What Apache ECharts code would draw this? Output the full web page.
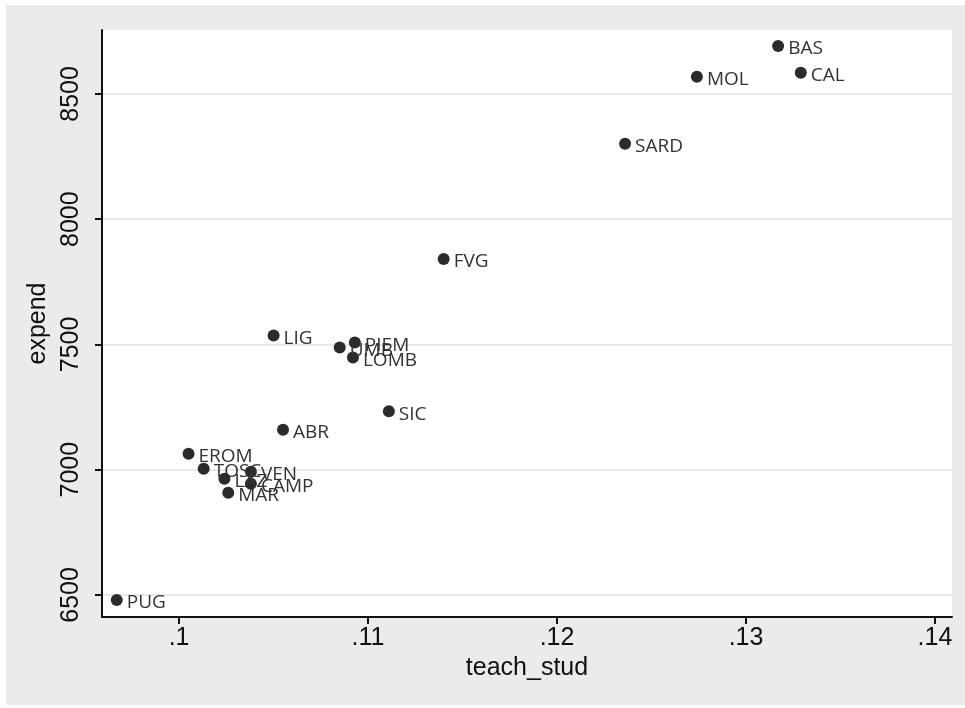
<!DOCTYPE html>
<html>
<head>
<meta charset="utf-8">
<script src="https://cdn.jsdelivr.net/npm/echarts@6/dist/echarts.min.js"></script>
<style>
html,body{margin:0;padding:0;background:#fff;}
#chart{width:965px;height:708px;}
</style>
</head>
<body>
<div id="chart"></div>
<script>
const regions = ["BAS","CAL","MOL","SARD","FVG","LIG","PIEM","UMB","LOMB","SIC","ABR","EROM","TOSC","VEN","LAZ","CAMP","MAR","PUG"];
const teachStud = [0.1317,0.1329,0.1274,0.1236,0.1140,0.1050,0.1093,0.1085,0.1092,0.1111,0.1055,0.1005,0.1013,0.1038,0.1024,0.1038,0.1026,0.0967];
const expend = [8691,8584,8568,8301,7841,7536,7508,7488,7448,7233,7159,7064,7004,6992,6964,6944,6908,6480];
const xTicks = [0.10,0.11,0.12,0.13,0.14];
const yTicks = [6500,7000,7500,8000,8500];

const points = regions.map((r,i)=>({name:r,value:[teachStud[i],expend[i]]}));
const fmtX = v => { const s = String(+v.toFixed(2)); return s.replace(/^0/,''); };

const chart = echarts.init(document.getElementById('chart'));
chart.setOption({
  animation:false,
  backgroundColor:'#ffffff',
  graphic:[{type:'rect',z:-10,shape:{x:6,y:5,width:959,height:700},style:{fill:'#ebebeb'},silent:true}],
  grid:{left:102,top:30,right:13,bottom:91,show:true,backgroundColor:'#ffffff',borderWidth:0},
  xAxis:{
    type:'value',min:0.09592,max:0.1409,interval:0.01,
    name:'teach_stud',nameLocation:'middle',nameGap:35,
    nameTextStyle:{fontFamily:'Liberation Sans',fontSize:25,color:'#111'},
    axisLine:{show:true,onZero:false,lineStyle:{color:'#111',width:2}},
    axisTick:{show:true,length:7,lineStyle:{color:'#111',width:2},customValues:xTicks},
    axisLabel:{fontFamily:'Liberation Sans',fontSize:25,color:'#111',margin:9,customValues:xTicks,formatter:fmtX},
    splitLine:{show:false}
  },
  yAxis:{
    type:'value',min:6412,max:8755,
    name:'expend',nameLocation:'middle',nameGap:47,nameRotate:90,
    nameTextStyle:{fontFamily:'Liberation Sans',fontSize:25,color:'#111'},
    axisLine:{show:true,onZero:false,lineStyle:{color:'#111',width:2}},
    axisTick:{show:true,length:7,lineStyle:{color:'#111',width:2},customValues:yTicks},
    axisLabel:{fontFamily:'Liberation Sans',fontSize:25,color:'#111',rotate:90,margin:18,customValues:yTicks,formatter:v=>String(v)},
    splitLine:{show:true,lineStyle:{color:'#e8e8e8',width:2},customValues:yTicks}
  },
  series:[{
    type:'scatter',
    data:points,
    symbol:'circle',symbolSize:12,
    itemStyle:{color:'#2b2b2b',opacity:1},
    label:{show:true,position:[16,9],formatter:p=>p.name,
      fontFamily:'Open Sans',fontSize:19,color:'#333',align:'left',verticalAlign:'middle'},
    labelLayout:{hideOverlap:false}
  }]
});
</script>
</body>
</html>
